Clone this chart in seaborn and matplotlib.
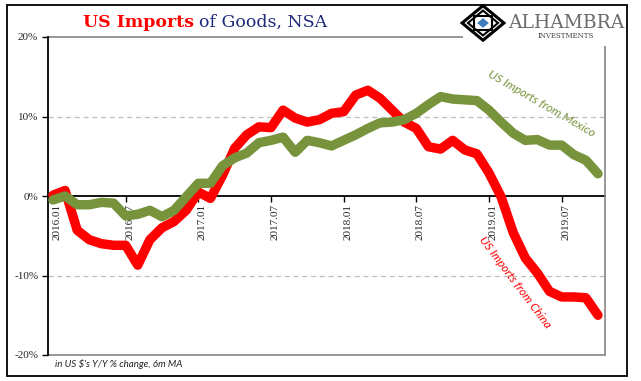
import numpy as np
import pandas as pd
import matplotlib
matplotlib.use("Agg")
import matplotlib.pyplot as plt
import matplotlib.transforms as mtransforms
from matplotlib.patches import Rectangle, Polygon
import seaborn as sns

# ---------------- data ----------------
months = pd.date_range("2016-01-01", periods=46, freq="MS").strftime("%Y.%m").tolist()
china = [0.1, 0.7, -4.3, -5.5, -6.0, -6.2, -6.2, -8.7, -5.5, -4.0, -3.2, -1.8,
         0.5, -0.3, 2.6, 6.0, 7.7, 8.7, 8.6, 10.8, 9.8, 9.3, 9.6, 10.4,
         10.6, 12.7, 13.3, 12.3, 10.8, 9.3, 8.5, 6.2, 5.9, 7.0, 5.8, 5.3,
         2.9, -0.1, -4.6, -7.8, -9.7, -12.0, -12.7, -12.7, -12.8, -15.0]
mexico = [-0.5, 0.0, -1.1, -1.1, -0.8, -0.9, -2.5, -2.3, -1.8, -2.6, -1.8, -0.1,
          1.6, 1.6, 3.8, 4.8, 5.4, 6.7, 7.0, 7.4, 5.5, 7.0, 6.7, 6.3,
          7.0, 7.7, 8.5, 9.2, 9.3, 9.6, 10.4, 11.5, 12.5, 12.2, 12.1, 12.0,
          10.8, 9.3, 7.9, 7.0, 7.1, 6.4, 6.4, 5.2, 4.5, 2.8]
tick_labels = ["2016.01", "2016.07", "2017.01", "2017.07", "2018.01", "2018.07", "2019.01", "2019.07"]
y_ticks = [-20, -10, 0, 10, 20]
y_tick_labels = ["-20%", "-10%", "0%", "10%", "20%"]

df = pd.DataFrame({"idx": np.arange(len(months)), "month": months,
                   "china": china, "mexico": mexico})

RED = "#FF0000"
GREEN = "#77933C"
W, H = 641, 381

sns.set_style("white")
plt.rcParams["font.family"] = ["DejaVu Sans"]

fig = plt.figure(figsize=(W / 100, H / 100), dpi=100)
ax = fig.add_axes([48 / W, 1 - 355 / H, (605 - 48) / W, (355 - 37) / H])
ax.set_facecolor("none")

# grid lines
for g in [10, -10]:
    ax.axhline(g, color="#BFBFBF", lw=0.9, ls=(0, (4, 3)), zorder=1)
ax.axhline(-20, color="#868686", lw=1.2, zorder=1, clip_on=False)
ax.axhline(20, color="#868686", lw=1.2, zorder=1, clip_on=False)

sns.lineplot(data=df, x="idx", y="china", ax=ax, color=RED, linewidth=6.8,
             solid_joinstyle="round", solid_capstyle="round", zorder=3)
sns.lineplot(data=df, x="idx", y="mexico", ax=ax, color=GREEN, linewidth=6.8,
             solid_joinstyle="round", solid_capstyle="round", zorder=4)

ax.set_xlim(-0.41, 45.58)
ax.set_ylim(-20, 20)
ax.set_xlabel("")
ax.set_ylabel("")

# spines
ax.spines["top"].set_visible(False)
ax.spines["right"].set_color("#868686")
ax.spines["right"].set_linewidth(1.2)
ax.spines["left"].set_color("black")
ax.spines["left"].set_linewidth(1.3)
ax.spines["bottom"].set_position(("data", 0))
ax.spines["bottom"].set_color("black")
ax.spines["bottom"].set_linewidth(1.3)
ax.spines["bottom"].set_zorder(2)

ax.set_yticks(y_ticks)
ax.set_yticklabels(y_tick_labels, family="Liberation Serif", fontsize=8)
ax.set_xticks([months.index(t) for t in tick_labels])
ax.set_xticklabels(tick_labels, rotation=90, family="Liberation Serif", fontsize=8,
                   va="top", ha="center")
ax.tick_params(axis="y", direction="out", length=4, width=1, color="black", pad=3, left=True)
ax.tick_params(axis="x", direction="out", length=4, width=1, color="black", pad=2, bottom=True)
offset = mtransforms.ScaledTranslation(4 / 100, 0, fig.dpi_scale_trans)
for lab in ax.get_xticklabels():
    lab.set_transform(lab.get_transform() + offset)

# series labels
fig.text(541 / W, 1 - 104 / H, "US Imports from Mexico", color=GREEN,
         rotation=-30, fontsize=8.7, style="italic", family="Lato",
         ha="center", va="center", rotation_mode="anchor")
fig.text(515 / W, 1 - 282 / H, "US Imports from China", color=RED,
         rotation=-53, fontsize=8.5, style="italic", family="Lato",
         ha="center", va="center", rotation_mode="anchor")

# subtitle
fig.text(55 / W, 1 - 367 / H, "in US $'s Y/Y % change, 6m MA", fontsize=7,
         style="italic", family="Lato", color="#222222", va="baseline")

# title
t1 = fig.text(83 / W, 1 - 27 / H, "US Imports", color=RED, fontsize=12.5,
              fontweight="bold", family="DejaVu Serif", va="baseline")
fig.canvas.draw()
bb = t1.get_window_extent()
fig.text((bb.x1 + 5) / W, 1 - 27 / H, "of Goods, NSA", color="#1F2A7A",
         fontsize=12.5, family="DejaVu Serif", va="baseline")

# logo area
fig.patches.append(Rectangle((463 / W, 1 - 46 / H), (626 - 463) / W, 41 / H,
                             transform=fig.transFigure, facecolor="white",
                             edgecolor="none", zorder=5))
lax = fig.add_axes([460 / W, 1 - 42 / H, 46 / W, 38 / H], zorder=6)
lax.set_xlim(-1.1, 1.1)
lax.set_ylim(-1.1, 1.1)
lax.axis("off")
lax.add_patch(Polygon([[0, 1], [1, 0], [0, -1], [-1, 0]], closed=True,
                      facecolor="white", edgecolor="black", lw=2.2))
lax.add_patch(Polygon([[0, 0.72], [0.72, 0], [0, -0.72], [-0.72, 0]], closed=True,
                      facecolor="none", edgecolor="black", lw=1.5))
lax.add_patch(Polygon([[-0.42, 0.42], [0.42, 0.42], [0.42, -0.42], [-0.42, -0.42]],
                      closed=True, facecolor="none", edgecolor="black", lw=1.5))
lax.add_patch(Polygon([[0, 0.28], [0.28, 0], [0, -0.28], [-0.28, 0]], closed=True,
                      facecolor="#3E7CC0", edgecolor="none"))
fig.text(508 / W, 1 - 28 / H, "ALHAMBRA", fontsize=13.5, family="DejaVu Serif",
         color="#6B6B6B", va="baseline", zorder=7)
fig.text(566 / W, 1 - 38 / H, "INVESTMENTS", fontsize=5, family="DejaVu Serif",
         color="#444444", va="baseline", ha="center", zorder=7)

# outer border
fig.patches.append(Rectangle((7 / W, 1 - 376 / H), (627 - 7) / W, (376 - 5) / H,
                             transform=fig.transFigure, facecolor="none",
                             edgecolor="black", lw=1.3, zorder=10))

fig.savefig("out.png", dpi=100)
